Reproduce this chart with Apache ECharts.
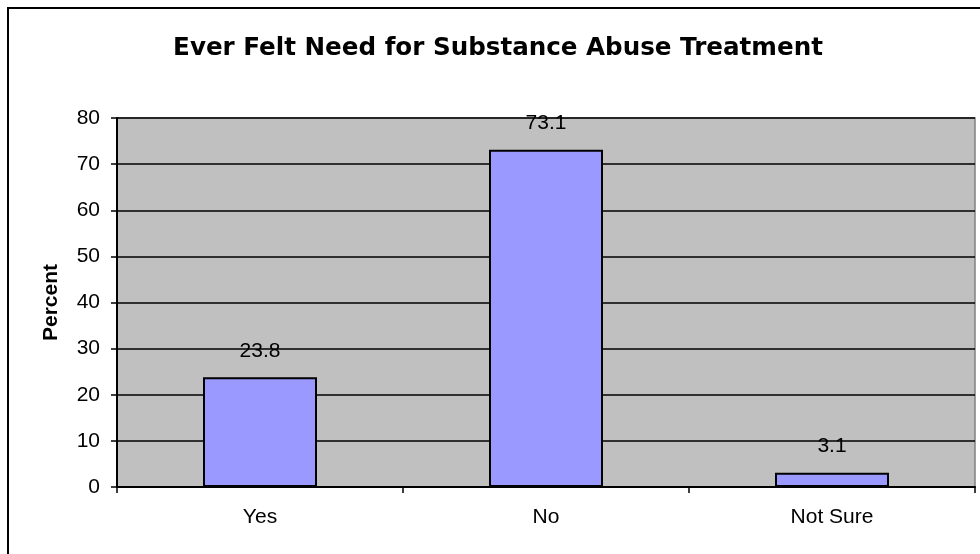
<!DOCTYPE html>
<html>
<head>
<meta charset="utf-8">
<script src="https://cdn.jsdelivr.net/npm/echarts@6/dist/echarts.min.js"></script>
<style>
html,body{margin:0;padding:0;background:#fff;}
#chart{width:980px;height:554px;}
</style>
</head>
<body>
<div id="chart"></div>
<script>
const titleText = 'Ever Felt Need for Substance Abuse Treatment';
const yAxisName = 'Percent';
const categories = ['Yes', 'No', 'Not Sure'];
const percentValues = [23.8, 73.1, 3.1];
const yTicks = { min: 0, max: 80, interval: 10 };

const chart = echarts.init(document.getElementById('chart'), null, { renderer: 'canvas' });
const font = 'Liberation Sans, Arial, sans-serif';
chart.setOption({
  backgroundColor: '#ffffff',
  animation: false,
  title: {
    text: titleText,
    left: 493,
    top: 31,
    textAlign: 'center',
    textStyle: { fontFamily: 'DejaVu Sans', fontWeight: 'bold', fontSize: 24.6, color: '#000' }
  },
  graphic: [{
    type: 'rect',
    shape: { x: 8, y: 8, width: 1000, height: 600 },
    style: { fill: 'none', stroke: '#000', lineWidth: 2 },
    z: 100
  }],
  grid: {
    left: 117, right: 5, top: 118, bottom: 67,
    show: true, backgroundColor: '#C0C0C0', borderColor: '#808080', borderWidth: 1.5
  },
  xAxis: {
    type: 'category',
    data: categories,
    boundaryGap: true,
    axisLine: { lineStyle: { color: '#000', width: 2 } },
    axisTick: { show: true, alignWithLabel: false, length: 6, lineStyle: { color: '#000', width: 1.5 } },
    axisLabel: { margin: 20, fontFamily: font, fontSize: 21, color: '#000' },
    splitLine: { show: false }
  },
  yAxis: {
    type: 'value',
    min: yTicks.min, max: yTicks.max, interval: yTicks.interval,
    name: yAxisName,
    nameLocation: 'middle',
    nameGap: 55,
    nameRotate: 90,
    nameTextStyle: { fontFamily: font, fontWeight: 'bold', fontSize: 21, color: '#000' },
    axisLine: { show: true, lineStyle: { color: '#000', width: 2 } },
    axisTick: { show: true, length: 6, lineStyle: { color: '#000', width: 1.5 } },
    axisLabel: { margin: 17, fontFamily: font, fontSize: 21, color: '#000' },
    splitLine: { show: true, lineStyle: { color: '#000', width: 1.5 } }
  },
  series: [{
    type: 'bar',
    data: percentValues,
    barWidth: 114,
    itemStyle: { color: '#9999FF', borderColor: '#000', borderWidth: 2 },
    label: {
      show: true, position: 'top', distance: 16,
      fontFamily: font, fontSize: 21, color: '#000',
      formatter: p => p.value.toFixed(1)
    }
  }]
});
</script>
</body>
</html>
